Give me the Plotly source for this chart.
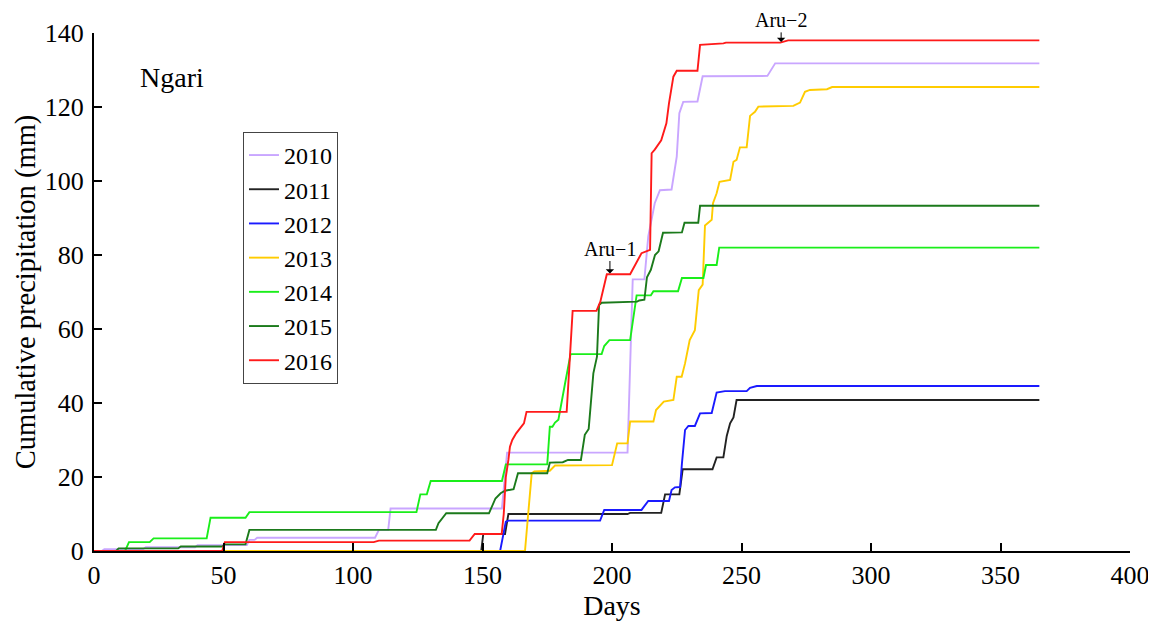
import plotly.graph_objects as go

# ---------------- data ----------------
years = ["2010", "2011", "2012", "2013", "2014", "2015", "2016"]

days_2010 = [0, 3, 4, 19, 20, 39, 40, 59, 60, 62, 63, 108.5, 110, 113.6, 114.5, 157.5, 159.5,
             206, 208, 212.5, 214, 216.5, 218.5, 223, 225, 226, 227.5, 233, 235, 260, 263, 365]
vals_2010 = [0, 0, 0.5, 0.5, 1.0, 1.0, 1.6, 1.6, 3.0, 3.0, 3.6, 3.6, 5.7, 5.7, 11.5, 11.5, 26.6,
             26.6, 73.4, 73.4, 85, 94, 97.5, 97.7, 106.6, 118.3, 121.4, 121.5, 128.3, 128.4, 131.8, 131.8]

days_2011 = [0, 149.5, 150.3, 158.7, 160, 206, 207, 219, 220.5, 226, 227.3, 238.8, 240.4, 243,
             244.3, 245.6, 246.9, 248.1, 365]
vals_2011 = [0, 0, 4.6, 4.6, 10.0, 10.0, 10.3, 10.3, 15.3, 15.3, 22.1, 22.1, 25.3, 25.3, 31.1,
             34.5, 36.1, 40.8, 40.8]

days_2012 = [0, 156.8, 159, 160, 195.4, 197, 211.4, 212.7, 214, 222, 223, 224.3, 226.3, 227,
             228.2, 229.5, 232, 234, 238.5, 240.4, 243.6, 252, 253.3, 255.9, 365]
vals_2012 = [0, 0, 7.9, 8.2, 8.2, 11.1, 11.1, 12.2, 13.5, 13.5, 16.5, 17.2, 17.3, 23.7, 32.7,
             33.8, 33.8, 37.2, 37.3, 42.8, 43.2, 43.2, 44.1, 44.6, 44.6]

days_2013 = [0, 166.4, 169, 170, 176, 178, 200, 201, 202, 206, 207, 216, 217, 220, 223.7, 225,
             226.9, 228.2, 230, 232, 233.5, 235, 235.9, 238.5, 239, 240.4, 241.5, 245.6, 246.9,
             248.1, 249.4, 252, 253.3, 255.2, 256.5, 270, 272.6, 274.5, 276.4, 283, 285, 365]
vals_2013 = [0, 0, 21, 21.5, 21.7, 23.1, 23.2, 26.6, 29.1, 29.1, 35, 35, 38.1, 40.4, 40.8, 47.1,
             47.1, 50.7, 57.0, 59.7, 70.5, 72, 88, 89.5, 94, 96.7, 99.8, 100.3, 105.2, 105.7,
             109.1, 109.1, 117.6, 118.7, 120.1, 120.3, 121.2, 124.1, 124.6, 124.8, 125.4, 125.4]

days_2014 = [0, 12, 13.5, 21.5, 23, 43.5, 45, 58.5, 60, 124.5, 126, 128.5, 130, 157.5, 159, 175,
             176, 177, 178, 179.3, 181.8, 184, 196, 197, 199, 207, 209.5, 215, 216, 225.5, 227,
             235.3, 236.3, 240.4, 241.4, 365]
vals_2014 = [0, 0, 2.4, 2.4, 3.4, 3.4, 9.0, 9.0, 10.5, 10.5, 15.3, 15.3, 18.9, 18.9, 23.4, 23.4,
             33.6, 33.6, 34.7, 35.5, 45, 53.2, 53.2, 55.4, 57.0, 57.0, 69.1, 69.1, 70.2, 70.2, 73.8,
             73.8, 77.3, 77.3, 82.0, 82.0]

days_2015 = [0, 8.5, 9.5, 32.5, 33.5, 49.5, 50.5, 58.5, 60, 132, 133, 136, 152.5, 155, 157, 158.7,
             162, 163.7, 175, 176, 181, 183, 188, 189.5, 191, 192.8, 193.5, 194.2, 195, 196, 209.7,
             210.5, 212.5, 213.5, 215, 216.6, 218, 219.7, 227, 228, 233.3, 234, 365]
vals_2015 = [0, 0, 0.7, 0.7, 1.2, 1.2, 1.8, 1.8, 5.7, 5.7, 7.5, 10.2, 10.2, 14.2, 15.6, 16.3, 16.7,
             21.0, 21.0, 23.9, 24.0, 24.6, 24.6, 31.4, 33, 48, 50.3, 52.5, 66.5, 67.1, 67.4, 67.7,
             67.9, 74, 76, 80, 81, 86, 86.1, 88.7, 88.7, 93.3, 93.3]

days_2016 = [0, 49.5, 50.5, 108, 110, 145, 147, 157.4, 158.2, 159, 160, 160.6, 161.5, 163, 165,
             166, 167, 182.5, 184.8, 194, 195.5, 197, 198, 207, 209, 211.4, 214.7, 215.3, 216.5,
             218, 219, 221, 222, 223.7, 225, 233, 234, 243, 244, 265, 268, 365]
vals_2016 = [0, 0, 2.4, 2.4, 2.8, 2.8, 4.6, 4.6, 10, 20, 24.6, 28.2, 30, 31.8, 33.6, 34.5, 37.6,
             37.6, 64.9, 64.9, 67.4, 71.4, 74.8, 74.8, 77.3, 80.5, 81.4, 107.5, 108.5, 110.2, 111,
             115.6, 121, 128.2, 129.8, 129.8, 136.8, 137.2, 137.4, 137.4, 138.0, 138.0]

x_ticks = [0, 50, 100, 150, 200, 250, 300, 350, 400]
y_ticks = [0, 20, 40, 60, 80, 100, 120, 140]

# annotation anchors
aru1_day, aru1_val = 199.2, 75.0
aru2_day, aru2_val = 265.3, 137.6

# ---------------- figure ----------------
series = [
    (days_2010, vals_2010, "#C9A6FF"),
    (days_2011, vals_2011, "#222222"),
    (days_2012, vals_2012, "#1A1AFF"),
    (days_2013, vals_2013, "#FFCC00"),
    (days_2014, vals_2014, "#1AEE1A"),
    (days_2015, vals_2015, "#1B7A1B"),
    (days_2016, vals_2016, "#FF1A1A"),
]

FONT = "Liberation Serif, Times New Roman, serif"

fig = go.Figure()
for name, (d, v, c) in zip(years, series):
    fig.add_trace(go.Scatter(x=d, y=v, mode="lines", name=name,
                             line=dict(color=c, width=1.9)))

# the page body adds an 8 px offset; size the figure to fit the 1156x622 window
fig.update_layout(
    width=1148, height=614,
    margin=dict(l=86, r=26, t=25, b=71),
    paper_bgcolor="white", plot_bgcolor="white",
    font=dict(family=FONT, color="black", size=24),
    showlegend=True,
    legend=dict(x=0.1438, y=0.809, xanchor="left", yanchor="top",
                bgcolor="white", bordercolor="#444444", borderwidth=1,
                font=dict(family=FONT, size=24, color="black")),
    xaxis=dict(range=[0, 400], tickvals=x_ticks, ticks="inside", ticklen=8, tickwidth=2,
               tickcolor="black", showline=True, linewidth=2, linecolor="black",
               showgrid=False, zeroline=False, automargin=False,
               tickfont=dict(family=FONT, size=26), ticklabelstandoff=0,
               title=dict(text="Days", font=dict(family=FONT, size=28), standoff=4)),
    yaxis=dict(range=[0, 140], tickvals=y_ticks, ticks="inside", ticklen=8, tickwidth=2,
               tickcolor="black", showline=True, linewidth=2, linecolor="black",
               showgrid=False, zeroline=False, automargin=False,
               tickfont=dict(family=FONT, size=26), ticklabelstandoff=3,
               title=dict(text="Cumulative precipitation (mm)", font=dict(family=FONT, size=28.5),
                          standoff=1)),
    annotations=[
        dict(x=17, y=128.1, xref="x", yref="y", text="Ngari", showarrow=False,
             xanchor="left", yanchor="middle", font=dict(family=FONT, size=28)),
        dict(x=aru1_day, y=aru1_val, xref="x", yref="y", text="Aru\u22121", showarrow=True,
             ax=0, ay=-25, arrowhead=1, arrowsize=1.4, arrowwidth=1, arrowcolor="black",
             font=dict(family=FONT, size=20)),
        dict(x=aru2_day, y=aru2_val, xref="x", yref="y", text="Aru\u22122", showarrow=True,
             ax=0, ay=-22, arrowhead=1, arrowsize=1.4, arrowwidth=1, arrowcolor="black",
             font=dict(family=FONT, size=20)),
    ],
)

fig.write_html("out.html")
